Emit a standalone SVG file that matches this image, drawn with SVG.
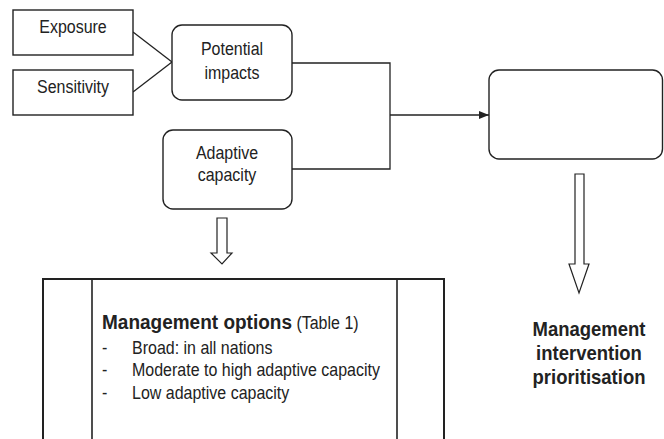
<svg xmlns="http://www.w3.org/2000/svg" width="664" height="439" viewBox="0 0 664 439">
<style>
  .box { fill: #fff; stroke: #222; stroke-width: 1.4; }
  .ln { fill: none; stroke: #222; stroke-width: 1.3; }
  .hollow { fill: #fff; stroke: #222; stroke-width: 1.2; stroke-linejoin: miter; }
  .t { font-family: "Liberation Sans", Arial, sans-serif; font-size: 16px; fill: #222; text-anchor: middle; }
  .tl { font-family: "Liberation Sans", Arial, sans-serif; font-size: 16px; fill: #222; }
  .b { font-weight: bold; }
</style>
<defs>
  <marker id="ah" markerWidth="10" markerHeight="8" refX="10" refY="4" orient="auto" markerUnits="userSpaceOnUse">
    <path d="M0,0 L10,4 L0,8 Z" fill="#222"/>
  </marker>
</defs>
<rect width="664" height="439" fill="#fff"/>
<g id="connectors">
  <line class="ln" x1="133" y1="32" x2="172" y2="62"/>
  <line class="ln" x1="133" y1="92" x2="172" y2="62"/>
  <path class="ln" d="M292,63 H390 V169 H292"/>
  <line class="ln" x1="390" y1="115" x2="489" y2="115" marker-end="url(#ah)"/>
  <polygon class="hollow" points="217,218 227,218 227,253 232,253 222,264 211,253 217,253"/>
  <polygon class="hollow" points="575,174 584,174 584,264 589,264 579,293 569,264 575,264"/>
</g>
<g id="exposure">
  <rect class="box" x="13" y="10" width="120" height="45"/>
  <text class="t" transform="translate(73,33) scale(1,1.18)">Exposure</text>
</g>
<g id="sensitivity">
  <rect class="box" x="13" y="70" width="120" height="45"/>
  <text class="t" transform="translate(73,93) scale(1,1.18)">Sensitivity</text>
</g>
<g id="potential">
  <rect class="box" x="172" y="25" width="120" height="75" rx="10"/>
  <text class="t" transform="translate(232,55) scale(1,1.18)">Potential</text>
  <text class="t" transform="translate(232,79) scale(1,1.18)">impacts</text>
</g>
<g id="adaptive">
  <rect class="box" x="163" y="130" width="129" height="79" rx="10"/>
  <text class="t" transform="translate(227,159) scale(1,1.18)">Adaptive</text>
  <text class="t" transform="translate(227,181) scale(1,1.18)">capacity</text>
</g>
<g id="result">
  <rect class="box" x="489" y="70" width="173.5" height="89" rx="10"/>
</g>
<g id="management-options">
  <path d="M43,440 V279 H444 V440" fill="#fff" stroke="#222" stroke-width="2"/>
  <line x1="92" y1="279" x2="92" y2="440" stroke="#222" stroke-width="1.6"/>
  <line x1="397" y1="279" x2="397" y2="440" stroke="#222" stroke-width="1.6"/>
  <text class="tl" transform="translate(102,329) scale(1,1.1)"><tspan class="b" style="font-size:19px">Management options</tspan><tspan> (Table 1)</tspan></text>
  <text class="tl" transform="translate(102,354) scale(1,1.18)">-</text>
  <text class="tl" transform="translate(132,354) scale(1,1.18)">Broad: in all nations</text>
  <text class="tl" transform="translate(102,376) scale(1,1.18)">-</text>
  <text class="tl" transform="translate(132,376) scale(1,1.18)">Moderate to high adaptive capacity</text>
  <text class="tl" transform="translate(102,399) scale(1,1.18)">-</text>
  <text class="tl" transform="translate(132,399) scale(1,1.18)">Low adaptive capacity</text>
</g>
<g id="prioritisation">
  <text class="t b" transform="translate(589,336) scale(1,1.12)" style="font-size:18.5px">Management</text>
  <text class="t b" transform="translate(589,360) scale(1,1.12)" style="font-size:18.5px">intervention</text>
  <text class="t b" transform="translate(589,384) scale(1,1.12)" style="font-size:18.5px">prioritisation</text>
</g>
</svg>
